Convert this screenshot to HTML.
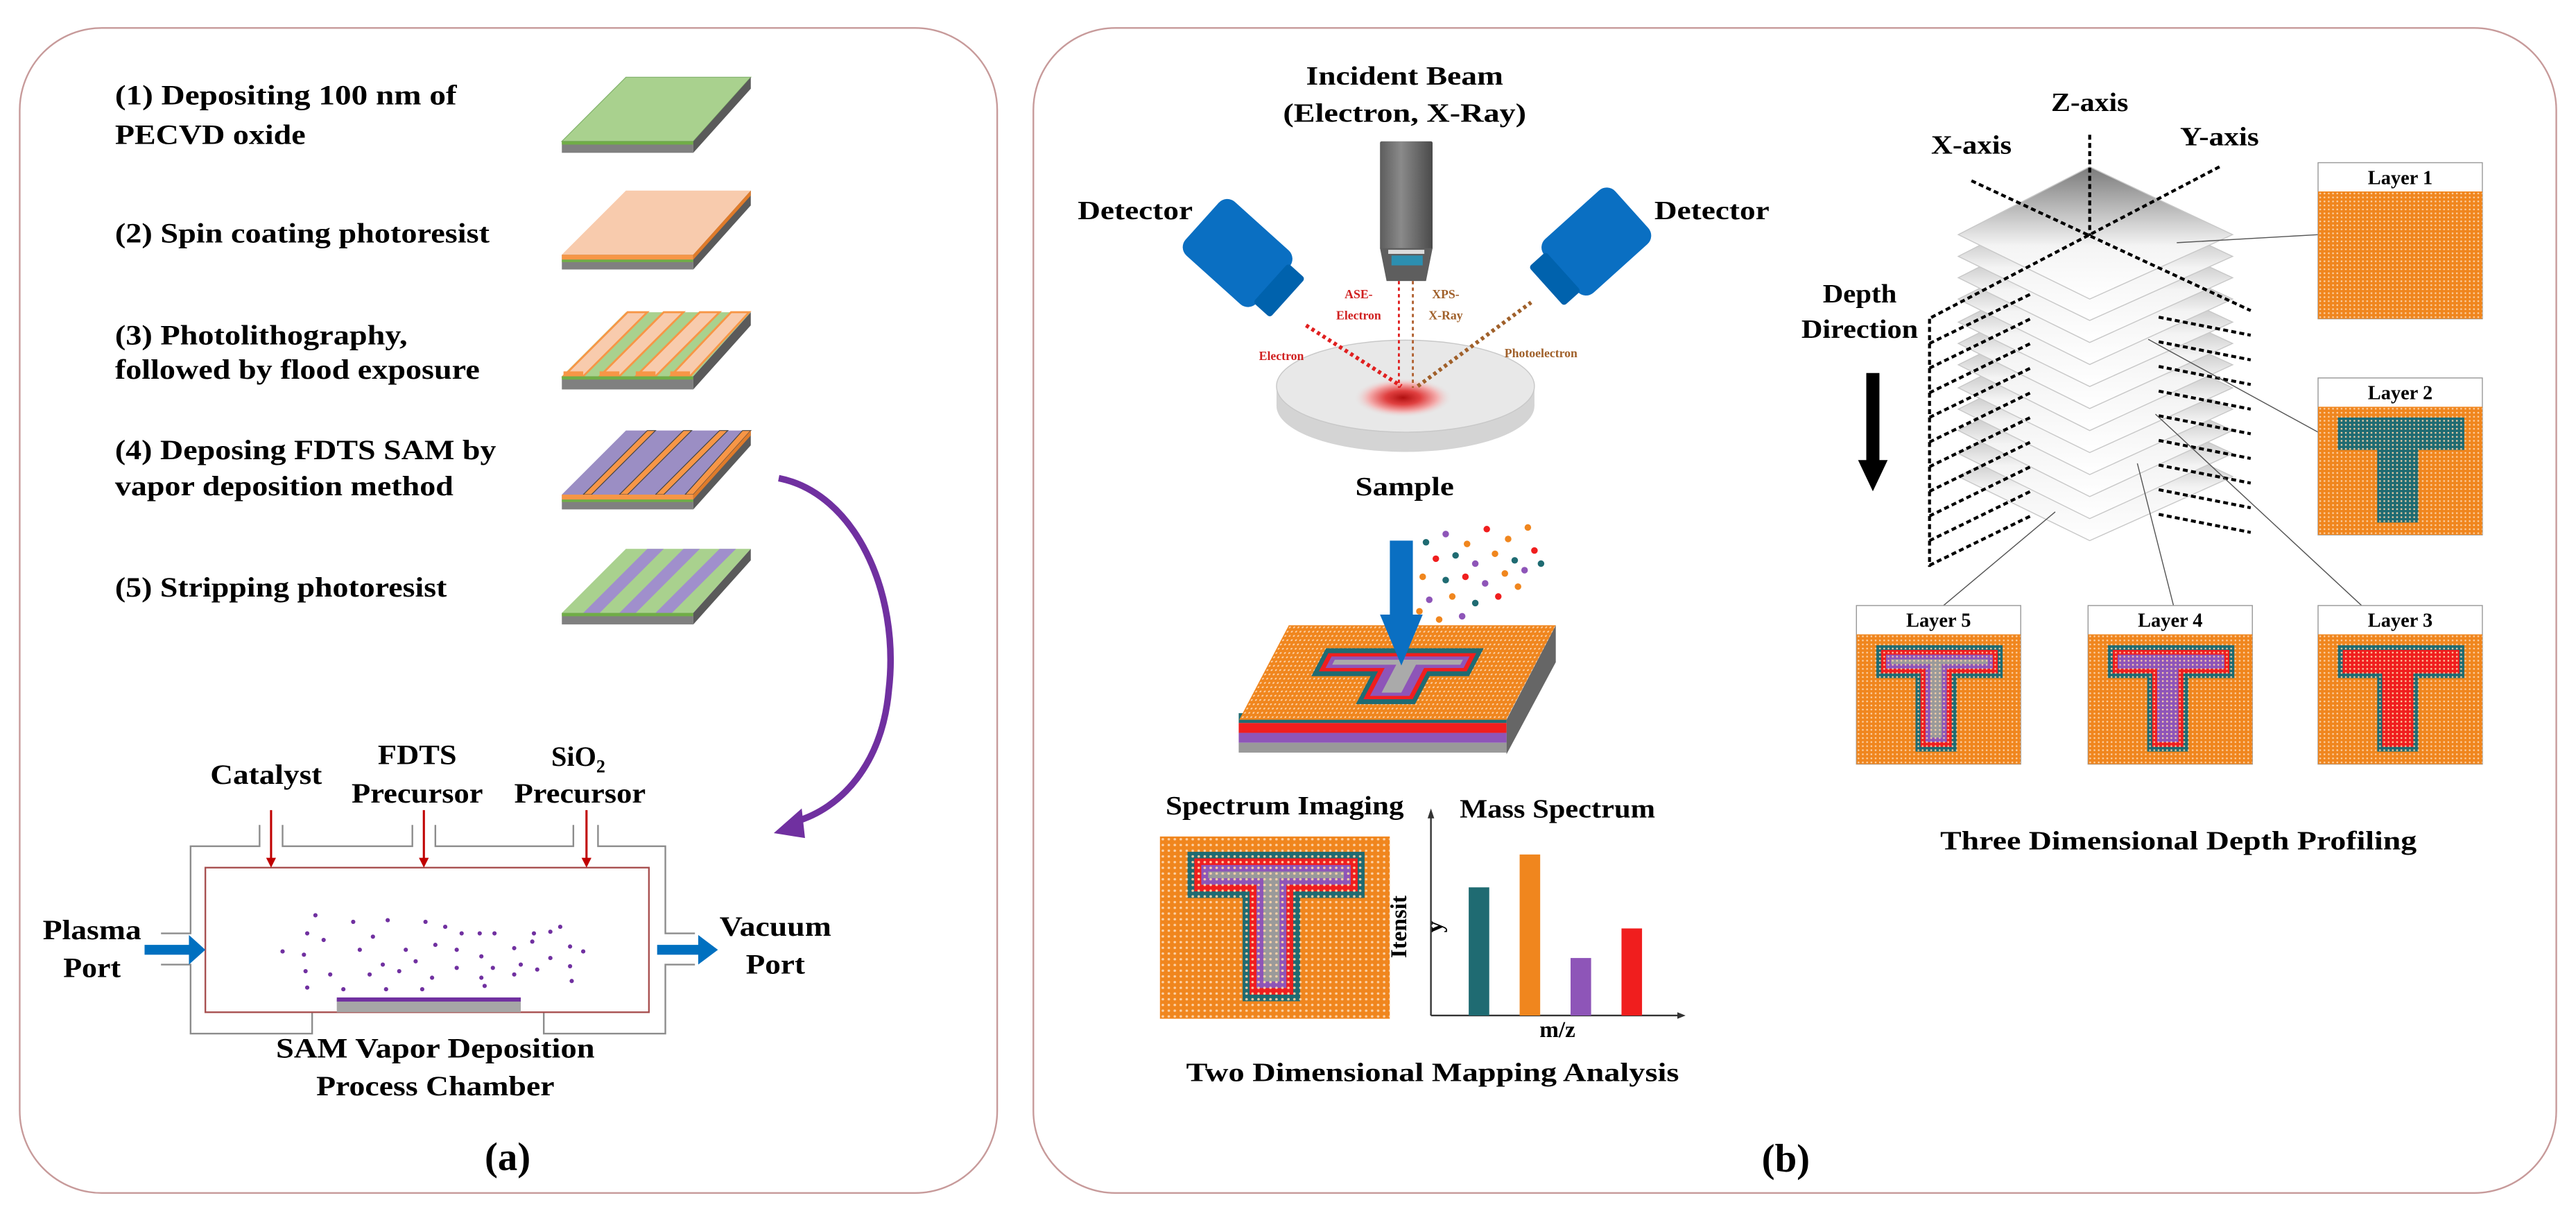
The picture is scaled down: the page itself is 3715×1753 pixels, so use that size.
<!DOCTYPE html>
<html><head><meta charset="utf-8"><style>
html,body{margin:0;padding:0;background:#fff;}
svg{display:block;}
text{font-family:"Liberation Serif",serif;font-weight:bold;fill:#000;}
</style></head><body>
<svg width="3715" height="1753" viewBox="0 0 1568 740" preserveAspectRatio="none" xmlns="http://www.w3.org/2000/svg">
<defs>
<pattern id="dots" width="2.6" height="2.6" patternUnits="userSpaceOnUse"><circle cx="1.3" cy="1.3" r="0.55" fill="#fbd2a8"/></pattern>
<linearGradient id="dia" x1="0" y1="0" x2="0" y2="1"><stop offset="0" stop-color="#7a7a7a"/><stop offset="0.6" stop-color="#f4f4f4"/><stop offset="1" stop-color="#ffffff"/></linearGradient>
<linearGradient id="col" x1="0" y1="0" x2="1" y2="0"><stop offset="0" stop-color="#5d5d5d"/><stop offset="0.4" stop-color="#8a8a8a"/><stop offset="1" stop-color="#4a4a4a"/></linearGradient>
<radialGradient id="spot"><stop offset="0" stop-color="#b01010"/><stop offset="0.35" stop-color="#e04040"/><stop offset="0.7" stop-color="#f4b0b0"/><stop offset="1" stop-color="#e6e6e6" stop-opacity="0"/></radialGradient>
<symbol id="T5" viewBox="0 0 100 83" preserveAspectRatio="none">
<rect width="100" height="83" fill="#f0861e"/>
<rect x="12" y="7" width="77" height="21" fill="#1f6b72"/><rect x="36" y="7" width="25" height="68" fill="#1f6b72"/>
<rect x="15" y="10" width="71" height="15" fill="#f01e1e"/><rect x="39" y="10" width="19" height="62" fill="#f01e1e"/>
<rect x="18" y="13" width="65" height="9" fill="#8e55b8"/><rect x="42" y="13" width="13" height="56" fill="#8e55b8"/>
<rect x="21" y="16" width="59" height="3" fill="#9a9a9a"/><rect x="45" y="16" width="7" height="50" fill="#9a9a9a"/>
<rect width="100" height="83" fill="url(#dots)"/>
</symbol>
<symbol id="T4" viewBox="0 0 100 83" preserveAspectRatio="none">
<rect width="100" height="83" fill="#f0861e"/>
<rect x="12" y="7" width="77" height="21" fill="#1f6b72"/><rect x="36" y="7" width="25" height="68" fill="#1f6b72"/>
<rect x="15" y="10" width="71" height="15" fill="#f01e1e"/><rect x="39" y="10" width="19" height="62" fill="#f01e1e"/>
<rect x="18" y="13" width="65" height="9" fill="#8e55b8"/><rect x="42" y="13" width="13" height="56" fill="#8e55b8"/>
<rect width="100" height="83" fill="url(#dots)"/>
</symbol>
<symbol id="T3" viewBox="0 0 100 83" preserveAspectRatio="none">
<rect width="100" height="83" fill="#f0861e"/>
<rect x="12" y="7" width="77" height="21" fill="#1f6b72"/><rect x="36" y="7" width="25" height="68" fill="#1f6b72"/>
<rect x="15" y="10" width="71" height="15" fill="#f01e1e"/><rect x="39" y="10" width="19" height="62" fill="#f01e1e"/>
<rect width="100" height="83" fill="url(#dots)"/>
</symbol>
<symbol id="T2" viewBox="0 0 100 83" preserveAspectRatio="none">
<rect width="100" height="83" fill="#f0861e"/>
<rect x="12" y="7" width="77" height="21" fill="#1f6b72"/><rect x="36" y="7" width="25" height="68" fill="#1f6b72"/>
<rect width="100" height="83" fill="url(#dots)"/>
</symbol>
<symbol id="T1" viewBox="0 0 100 83" preserveAspectRatio="none">
<rect width="100" height="83" fill="#f0861e"/>
<rect width="100" height="83" fill="url(#dots)"/>
</symbol>
</defs>

<!-- PANEL A -->
<rect x="12" y="17" width="595" height="709" rx="50" fill="#fff" stroke="#c79a9a" stroke-width="1"/>
<g font-size="17">
<text x="70" y="63.5" textLength="208" lengthAdjust="spacingAndGlyphs">(1) Depositing  100 nm of</text>
<text x="70" y="87.5" textLength="116" lengthAdjust="spacingAndGlyphs">PECVD oxide</text>
<text x="70" y="147.5" textLength="228" lengthAdjust="spacingAndGlyphs">(2) Spin coating photoresist</text>
<text x="70" y="209.5" textLength="178" lengthAdjust="spacingAndGlyphs">(3) Photolithography,</text>
<text x="70" y="230.5" textLength="222" lengthAdjust="spacingAndGlyphs">followed by flood exposure</text>
<text x="70" y="279.5" textLength="232" lengthAdjust="spacingAndGlyphs">(4) Deposing FDTS SAM by</text>
<text x="70" y="301.5" textLength="206" lengthAdjust="spacingAndGlyphs">vapor deposition method</text>
<text x="70" y="363" textLength="202" lengthAdjust="spacingAndGlyphs">(5) Stripping photoresist</text>
</g>
<!-- wafer 1 -->
<g transform="translate(0,47)">
<polygon points="381,0 457,0 422,39 342,39" fill="#a9d18e" stroke="#7fb069" stroke-width="0.5"/>
<rect x="342" y="39" width="80" height="7" fill="#808080"/><rect x="342" y="39" width="80" height="2" fill="#70ad47"/>
<polygon points="422,39 457,0 457,7 422,46" fill="#5a5a5a"/>
</g>
<!-- wafer 2 -->
<g transform="translate(0,116)">
<polygon points="381,0 457,0 422,39 342,39" fill="#f8cbad"/>
<rect x="342" y="39" width="80" height="9" fill="#808080"/><rect x="342" y="39" width="80" height="3" fill="#f79646"/><rect x="342" y="42" width="80" height="1.5" fill="#70ad47"/>
<polygon points="422,39 457,0 457,9 422,48" fill="#5a5a5a"/><polygon points="422,39 457,0 457,3 422,42" fill="#e07b2a"/>
</g>
<!-- wafer 3 -->
<g transform="translate(0,190)">
<polygon points="381,0 457,0 422,39 342,39" fill="#a9d18e"/>
<g fill="#f8cbad" stroke="#f79646" stroke-width="1.2">
<polygon points="343,39 382,0 394,0 355,39"/><polygon points="365,39 404,0 416,0 377,39"/><polygon points="387,39 426,0 438,0 399,39"/><polygon points="408,39 445,0 456,0 420,39"/>
</g>
<rect x="342" y="39" width="80" height="8" fill="#808080"/><rect x="342" y="39" width="80" height="2" fill="#70ad47"/>
<rect x="343" y="36" width="12" height="3" fill="#f79646"/><rect x="365" y="36" width="12" height="3" fill="#f79646"/><rect x="387" y="36" width="12" height="3" fill="#f79646"/><rect x="408" y="36" width="12" height="3" fill="#f79646"/>
<polygon points="422,39 457,0 457,8 422,47" fill="#5a5a5a"/>
</g>
<!-- wafer 4 -->
<g transform="translate(0,262)">
<polygon points="381,0 457,0 422,39 342,39" fill="#9b8ec4"/>
<g fill="#f79646" stroke="#444" stroke-width="0.5">
<polygon points="355,39 394,0 399,0 360,39"/><polygon points="377,39 416,0 421,0 382,39"/><polygon points="399,39 438,0 443,0 404,39"/><polygon points="417,39 452,0 457,0 422,39"/>
</g>
<rect x="342" y="39" width="80" height="9" fill="#808080"/><rect x="342" y="39" width="80" height="3" fill="#f79646"/><rect x="342" y="42" width="80" height="1.5" fill="#70ad47"/>
<polygon points="422,39 457,0 457,9 422,48" fill="#5a5a5a"/><polygon points="422,39 457,0 457,3 422,42" fill="#e07b2a"/>
</g>
<!-- wafer 5 -->
<g transform="translate(0,334)">
<polygon points="381,0 457,0 422,39 342,39" fill="#a9d18e"/>
<g fill="#a08fcc">
<polygon points="355,39 394,0 404,0 365,39"/><polygon points="377,39 416,0 426,0 387,39"/><polygon points="399,39 438,0 448,0 409,39"/>
</g>
<rect x="342" y="39" width="80" height="7" fill="#808080"/><rect x="342" y="39" width="80" height="2" fill="#70ad47"/>
<polygon points="422,39 457,0 457,7 422,46" fill="#5a5a5a"/>
</g>
<!-- purple arc -->
<path d="M474,291 C520,300 548,360 541,420 C537,465 512,492 484,500" fill="none" stroke="#7030a0" stroke-width="4"/>
<polygon points="471,507 488,492 490,510" fill="#7030a0"/>
<!-- chamber -->
<g fill="none" stroke="#8c8c8c" stroke-width="1">
<polyline points="158,502 158,515 116,515 116,568 98,568"/>
<polyline points="98,587 116,587 116,629 190,629 190,616"/>
<polyline points="172,502 172,515 251,515 251,502"/>
<polyline points="265,502 265,515 349,515 349,502"/>
<polyline points="364,502 364,515 405,515 405,568 423,568"/>
<polyline points="423,587 405,587 405,629 331,629 331,616"/>
</g>
<rect x="125" y="528" width="270" height="88" fill="none" stroke="#a85050" stroke-width="1"/>
<g stroke="#c00000" stroke-width="1.3">
<line x1="165" y1="493" x2="165" y2="524"/><line x1="258" y1="493" x2="258" y2="524"/><line x1="357" y1="493" x2="357" y2="524"/>
</g>
<g fill="#c00000"><polygon points="162,522 168,522 165,528"/><polygon points="255,522 261,522 258,528"/><polygon points="354,522 360,522 357,528"/></g>
<rect x="205" y="608" width="112" height="8" fill="#a6a6a6"/><rect x="205" y="607" width="112" height="2.5" fill="#7030a0"/>
<g fill="#0070c0">
<rect x="88" y="575" width="28" height="6"/><polygon points="115,569 125,578 115,587"/>
<rect x="400" y="575" width="27" height="6"/><polygon points="425,569 437,578 425,587"/>
</g>
<g fill="#7030a0" transform="translate(-5,3)">
<circle cx="197" cy="554" r="1.3"/><circle cx="220" cy="558" r="1.3"/><circle cx="241" cy="557" r="1.3"/><circle cx="264" cy="558" r="1.3"/><circle cx="276" cy="561" r="1.3"/><circle cx="286" cy="565" r="1.3"/><circle cx="297" cy="565" r="1.3"/><circle cx="306" cy="565" r="1.3"/><circle cx="340" cy="564" r="1.3"/><circle cx="330" cy="565" r="1.3"/><circle cx="346" cy="561" r="1.3"/><circle cx="192" cy="565" r="1.3"/><circle cx="202" cy="569" r="1.3"/><circle cx="232" cy="567" r="1.3"/><circle cx="224" cy="575" r="1.3"/><circle cx="252" cy="575" r="1.3"/><circle cx="270" cy="572" r="1.3"/><circle cx="283" cy="575" r="1.3"/><circle cx="298" cy="579" r="1.3"/><circle cx="318" cy="574" r="1.3"/><circle cx="329" cy="570" r="1.3"/><circle cx="352" cy="573" r="1.3"/><circle cx="360" cy="576" r="1.3"/><circle cx="177" cy="576" r="1.3"/><circle cx="190" cy="578" r="1.3"/><circle cx="238" cy="584" r="1.3"/><circle cx="258" cy="582" r="1.3"/><circle cx="283" cy="586" r="1.3"/><circle cx="305" cy="586" r="1.3"/><circle cx="322" cy="584" r="1.3"/><circle cx="340" cy="580" r="1.3"/><circle cx="352" cy="585" r="1.3"/><circle cx="191" cy="588" r="1.3"/><circle cx="206" cy="590" r="1.3"/><circle cx="230" cy="590" r="1.3"/><circle cx="248" cy="588" r="1.3"/><circle cx="268" cy="592" r="1.3"/><circle cx="298" cy="592" r="1.3"/><circle cx="318" cy="590" r="1.3"/><circle cx="332" cy="587" r="1.3"/><circle cx="353" cy="594" r="1.3"/><circle cx="192" cy="598" r="1.3"/><circle cx="214" cy="599" r="1.3"/><circle cx="240" cy="599" r="1.3"/><circle cx="262" cy="599" r="1.3"/><circle cx="300" cy="597" r="1.3"/>
</g>
<g font-size="17" text-anchor="middle">
<text x="162" y="477" textLength="68" lengthAdjust="spacingAndGlyphs">Catalyst</text>
<text x="254" y="465" textLength="48" lengthAdjust="spacingAndGlyphs">FDTS</text>
<text x="254" y="488.5" textLength="80" lengthAdjust="spacingAndGlyphs">Precursor</text>
<text x="352" y="466">SiO<tspan font-size="11" dy="4">2</tspan></text>
<text x="353" y="488.5" textLength="80" lengthAdjust="spacingAndGlyphs">Precursor</text>
<text x="56" y="571.5" textLength="60" lengthAdjust="spacingAndGlyphs">Plasma</text>
<text x="56" y="594.5" textLength="35" lengthAdjust="spacingAndGlyphs">Port</text>
<text x="472" y="569.5" textLength="68" lengthAdjust="spacingAndGlyphs">Vacuum</text>
<text x="472" y="592.5" textLength="36" lengthAdjust="spacingAndGlyphs">Port</text>
<text x="265" y="643.5" textLength="194" lengthAdjust="spacingAndGlyphs">SAM Vapor Deposition</text>
<text x="265" y="666.5" textLength="145" lengthAdjust="spacingAndGlyphs">Process Chamber</text>
<text x="309" y="712" font-size="24">(a)</text>
</g>

<!-- PANEL B -->
<rect x="629" y="17" width="927" height="709" rx="50" fill="#fff" stroke="#c79a9a" stroke-width="1"/>
<g font-size="16" text-anchor="middle">
<text x="855" y="51.5" textLength="120" lengthAdjust="spacingAndGlyphs">Incident Beam</text>
<text x="855" y="74" textLength="148" lengthAdjust="spacingAndGlyphs">(Electron, X-Ray)</text>
<text x="691" y="133.5" textLength="70" lengthAdjust="spacingAndGlyphs">Detector</text>
<text x="1042" y="133.5" textLength="70" lengthAdjust="spacingAndGlyphs">Detector</text>
<text x="855" y="301.5" textLength="60" lengthAdjust="spacingAndGlyphs">Sample</text>
<text x="782" y="495.5" textLength="145" lengthAdjust="spacingAndGlyphs">Spectrum Imaging</text>
<text x="948" y="497.5" textLength="119" lengthAdjust="spacingAndGlyphs">Mass Spectrum</text>
<text x="872" y="658" textLength="300" lengthAdjust="spacingAndGlyphs">Two Dimensional Mapping Analysis</text>
<text x="1326" y="517" textLength="290" lengthAdjust="spacingAndGlyphs">Three Dimensional Depth Profiling</text>
<text x="1272" y="67.5" textLength="47" lengthAdjust="spacingAndGlyphs">Z-axis</text>
<text x="1200" y="93.5" textLength="49" lengthAdjust="spacingAndGlyphs">X-axis</text>
<text x="1351" y="88.5" textLength="48" lengthAdjust="spacingAndGlyphs">Y-axis</text>
<text x="1132" y="184" textLength="45" lengthAdjust="spacingAndGlyphs">Depth</text>
<text x="1132" y="205.5" textLength="71" lengthAdjust="spacingAndGlyphs">Direction</text>
<text x="948" y="631" font-size="14">m/z</text>
<text x="1087" y="713" font-size="24">(b)</text>
</g>
<!-- sample disk -->
<ellipse cx="855.5" cy="247" rx="78.5" ry="28" fill="#d4d4d4"/>
<rect x="777" y="235" width="157" height="12" fill="#d4d4d4"/>
<ellipse cx="855.5" cy="235" rx="78.5" ry="28" fill="#e8e8e8" stroke="#c8c8c8" stroke-width="0.6"/>
<ellipse cx="854" cy="242" rx="30" ry="12" fill="url(#spot)"/>
<!-- beam column -->
<rect x="840" y="86" width="32" height="66" fill="url(#col)" rx="1"/>
<polygon points="840,151 872,151 868,171 844,171" fill="#5e5e5e"/>
<rect x="845" y="152" width="22" height="2.5" fill="#dcdcdc"/>
<rect x="847" y="155.5" width="19" height="6" fill="#2c8fb0"/>
<!-- dotted rays -->
<g fill="none" stroke-dasharray="2 2">
<line x1="851.5" y1="171" x2="851.5" y2="236" stroke="#e02020" stroke-width="1.2"/>
<line x1="860" y1="171" x2="860" y2="236" stroke="#b06030" stroke-width="1.2"/>
<line x1="795" y1="198" x2="853" y2="235" stroke="#e02020" stroke-width="2.4"/>
<line x1="863" y1="235" x2="932" y2="184" stroke="#a0602a" stroke-width="2.4"/>
</g>
<g font-size="7.5" text-anchor="middle">
<text x="827" y="181.5" style="fill:#d02020">ASE-</text>
<text x="827" y="194.5" style="fill:#d02020">Electron</text>
<text x="880" y="181.5" style="fill:#a0602a">XPS-</text>
<text x="880" y="194.5" style="fill:#a0602a">X-Ray</text>
<text x="780" y="219" style="fill:#d02020">Electron</text>
<text x="938" y="217.5" style="fill:#a0602a">Photoelectron</text>
</g>
<!-- detectors -->
<g transform="translate(760,160) rotate(42)">
<rect x="-38" y="-22" width="58" height="44" rx="7" fill="#0a6fc2"/>
<rect x="18" y="-16" width="14" height="32" rx="2" fill="#0062ad"/>
</g>
<g transform="translate(965,153) rotate(138)">
<rect x="-38" y="-22" width="58" height="44" rx="7" fill="#0a6fc2"/>
<rect x="18" y="-16" width="14" height="32" rx="2" fill="#0062ad"/>
</g>
<!-- 3D block -->
<polygon points="917,438 947,380.5 947,403 917,459" fill="#666"/>
<rect x="754" y="434" width="163" height="6" fill="#1f6b72"/>
<rect x="754" y="440" width="163" height="6" fill="#f01e1e"/>
<rect x="754" y="446" width="163" height="6" fill="#8e55b8"/>
<rect x="754" y="452" width="163" height="6" fill="#999"/>
<g transform="translate(784.5,380.5) skewX(-27.7)">
<rect x="0" y="0" width="162.5" height="57.5" fill="#f0861e"/>
<rect x="0" y="0" width="162.5" height="57.5" fill="url(#dots)"/>
<rect x="30" y="14" width="96" height="17" fill="#1f6b72"/><rect x="66" y="14" width="36" height="34" fill="#1f6b72"/>
<rect x="33" y="17" width="90" height="11" fill="#f01e1e"/><rect x="69" y="17" width="30" height="28" fill="#f01e1e"/>
<rect x="36" y="19" width="84" height="7" fill="#8e55b8"/><rect x="72" y="19" width="24" height="24" fill="#8e55b8"/>
<rect x="39" y="21" width="78" height="3" fill="#aaa"/><rect x="78" y="21" width="12" height="20" fill="#aaa"/>
</g>
<!-- particles -->
<g>
<circle cx="868" cy="330" r="2" fill="#1f6b72"/><circle cx="880" cy="325" r="2" fill="#8e55b8"/><circle cx="893" cy="331" r="2" fill="#f0861e"/><circle cx="905" cy="322" r="2" fill="#f01e1e"/><circle cx="918" cy="328" r="2" fill="#f0861e"/><circle cx="930" cy="321" r="2" fill="#f0861e"/><circle cx="874" cy="340" r="2" fill="#f01e1e"/><circle cx="886" cy="338" r="2" fill="#1f6b72"/><circle cx="898" cy="343" r="2" fill="#8e55b8"/><circle cx="910" cy="337" r="2" fill="#f0861e"/><circle cx="922" cy="341" r="2" fill="#1f6b72"/><circle cx="934" cy="335" r="2" fill="#f01e1e"/><circle cx="866" cy="351" r="2" fill="#f0861e"/><circle cx="880" cy="353" r="2" fill="#1f6b72"/><circle cx="892" cy="351" r="2" fill="#f01e1e"/><circle cx="904" cy="355" r="2" fill="#8e55b8"/><circle cx="916" cy="349" r="2" fill="#f0861e"/><circle cx="928" cy="347" r="2" fill="#8e55b8"/><circle cx="870" cy="365" r="2" fill="#8e55b8"/><circle cx="884" cy="363" r="2" fill="#f0861e"/><circle cx="898" cy="367" r="2" fill="#1f6b72"/><circle cx="912" cy="363" r="2" fill="#f01e1e"/><circle cx="876" cy="377" r="2" fill="#f0861e"/><circle cx="890" cy="375" r="2" fill="#8e55b8"/><circle cx="864" cy="372" r="2" fill="#f0861e"/><circle cx="924" cy="357" r="2" fill="#f0861e"/><circle cx="938" cy="343" r="2" fill="#1f6b72"/>
</g>
<rect x="846" y="329" width="14" height="46" fill="#0a6fc2"/>
<polygon points="840,374 866,374 853,405" fill="#0a6fc2"/>
<!-- spectrum imaging -->
<use href="#T5" x="706" y="509" width="140" height="111"/>
<!-- mass spectrum -->
<g stroke="#333" stroke-width="1" fill="none">
<line x1="871" y1="618" x2="871" y2="495"/><line x1="871" y1="618" x2="1023" y2="618"/>
</g>
<polygon points="869,498 873,498 871,492" fill="#333"/><polygon points="1021,616 1021,620 1026,618" fill="#333"/>
<rect x="894" y="540" width="12.5" height="78" fill="#1f6b72"/>
<rect x="925" y="520" width="12.5" height="98" fill="#f0861e"/>
<rect x="956" y="583" width="12.5" height="35" fill="#8e55b8"/>
<rect x="987" y="565" width="12.5" height="53" fill="#f01e1e"/>
<text x="0" y="0" font-size="14" text-anchor="middle" transform="translate(856,564) rotate(-90)">Itensit</text>
<text x="0" y="0" font-size="14" text-anchor="middle" transform="translate(878,564) rotate(-90)">y</text>
<!-- 3D stack -->
<g stroke="#c8c8c8" stroke-width="0.6" fill="url(#dia)">
<polygon points="1272,249 1359,290 1272,329 1192,290"/>
<polygon points="1272,235.6 1359,276 1272,315.6 1192,276"/>
<polygon points="1272,222.2 1359,262 1272,302.2 1192,262"/>
<polygon points="1272,208.8 1359,249 1272,288.8 1192,249"/>
<polygon points="1272,195.4 1359,236 1272,275.4 1192,236"/>
<polygon points="1272,182 1359,222 1272,262 1192,222"/>
<polygon points="1272,168.6 1359,209 1272,248.6 1192,209"/>
<polygon points="1272,155.2 1359,196 1272,235.2 1192,196"/>
<polygon points="1272,141.8 1359,182 1272,221.8 1192,182"/>
<polygon points="1272,128.4 1359,169 1272,208.4 1192,169"/>
<polygon points="1272,115 1359,156 1272,195 1192,156"/>
<polygon points="1272,101.5 1359,142.8 1272,182 1192,142.8"/>
</g>
<g stroke="#000" stroke-width="1.8" stroke-dasharray="3 2" fill="none">
<line x1="1272" y1="82" x2="1272" y2="143.5"/>
<line x1="1200" y1="110" x2="1370" y2="189"/>
<line x1="1351" y1="101.5" x2="1174" y2="194"/>
<line x1="1174.5" y1="194" x2="1174.5" y2="345"/>
<line x1="1174.5" y1="209" x2="1236" y2="179"/><line x1="1174.5" y1="224" x2="1236" y2="194"/><line x1="1174.5" y1="239" x2="1236" y2="209"/><line x1="1174.5" y1="254" x2="1236" y2="224"/><line x1="1174.5" y1="269" x2="1236" y2="239"/><line x1="1174.5" y1="284" x2="1236" y2="254"/><line x1="1174.5" y1="299" x2="1236" y2="269"/><line x1="1174.5" y1="314" x2="1236" y2="284"/><line x1="1174.5" y1="329" x2="1236" y2="299"/><line x1="1174.5" y1="344" x2="1236" y2="314"/>
<line x1="1314" y1="193" x2="1370" y2="204"/><line x1="1314" y1="208" x2="1370" y2="219"/><line x1="1314" y1="223" x2="1370" y2="234"/><line x1="1314" y1="238" x2="1370" y2="249"/><line x1="1314" y1="253" x2="1370" y2="264"/><line x1="1314" y1="268" x2="1370" y2="279"/><line x1="1314" y1="283" x2="1370" y2="294"/><line x1="1314" y1="298" x2="1370" y2="309"/><line x1="1314" y1="313" x2="1370" y2="324"/>
</g>
<rect x="1136" y="227" width="8" height="55" fill="#000"/>
<polygon points="1131,280 1149,280 1140,299" fill="#000"/>
<!-- connectors -->
<g stroke="#555" stroke-width="0.6">
<line x1="1325" y1="147.7" x2="1411" y2="142.8"/>
<line x1="1307.6" y1="206.5" x2="1411" y2="263"/>
<line x1="1312" y1="252" x2="1437.5" y2="368.5"/>
<line x1="1301" y1="282" x2="1323" y2="368.5"/>
<line x1="1251" y1="311.5" x2="1183" y2="368.5"/>
</g>
<!-- layer boxes -->
<g font-size="12" text-anchor="middle">
<rect x="1411" y="99" width="100" height="95" fill="#fff" stroke="#999" stroke-width="0.6"/><use href="#T1" x="1411" y="116.5" width="100" height="77.5"/><text x="1461" y="112">Layer 1</text>
<rect x="1411" y="230" width="100" height="95.5" fill="#fff" stroke="#999" stroke-width="0.6"/><use href="#T2" x="1411" y="247.5" width="100" height="78"/><text x="1461" y="243">Layer 2</text>
<rect x="1411" y="368.5" width="100" height="96.5" fill="#fff" stroke="#999" stroke-width="0.6"/><use href="#T3" x="1411" y="386" width="100" height="79"/><text x="1461" y="381.5">Layer 3</text>
<rect x="1271" y="368.5" width="100" height="96.5" fill="#fff" stroke="#999" stroke-width="0.6"/><use href="#T4" x="1271" y="386" width="100" height="79"/><text x="1321" y="381.5">Layer 4</text>
<rect x="1130" y="368.5" width="100" height="96.5" fill="#fff" stroke="#999" stroke-width="0.6"/><use href="#T5" x="1130" y="386" width="100" height="79"/><text x="1180" y="381.5">Layer 5</text>
</g>
</svg>
</body></html>
